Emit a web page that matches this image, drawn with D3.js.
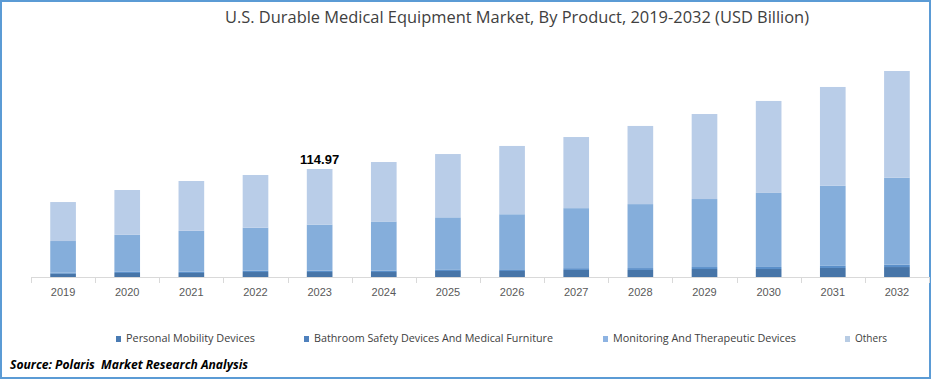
<!DOCTYPE html>
<html>
<head>
<meta charset="utf-8">
<script src="https://cdn.jsdelivr.net/npm/d3@7"></script>
<style>
  html, body { margin: 0; padding: 0; background: #fff; }
  svg { display: block; }
</style>
</head>
<body>
<svg id="chart" width="932" height="380"></svg>
<script>
const years = ["2019","2020","2021","2022","2023","2024","2025","2026","2027","2028","2029","2030","2031","2032"];
const personalMobility = [3.5, 4.3, 4.3, 5.3, 5.3, 5.3, 6.4, 6.4, 7.5, 7.5, 8.5, 8.5, 9.6, 10.6];
const bathroomSafety   = [1.1, 1.2, 1.3, 1.4, 1.5, 1.6, 1.7, 1.8, 1.9, 2.0, 2.1, 2.2, 2.3, 2.5];
const monitoring       = [33.7, 39.4, 43.6, 45.8, 49.0, 52.2, 55.4, 58.6, 63.9, 68.1, 72.4, 78.8, 85.2, 92.6];
const others           = [41.5, 47.7, 53.0, 56.1, 59.17, 63.3, 67.4, 72.7, 75.7, 83.2, 90.5, 97.9, 105.2, 113.6];
const seriesNames = ["Personal Mobility Devices", "Bathroom Safety Devices And Medical Furniture", "Monitoring And Therapeutic Devices", "Others"];
const seriesColors = ["#4775a8", "#5a8fc9", "#85aedb", "#b9cde8"];
const legendColors = ["#4a7bb3", "#4f81bd", "#8db3e2", "#b8cce4"];
const annotatedYear = "2023";
const annotatedValue = "114.97";
const titleText = "U.S. Durable Medical Equipment Market, By Product, 2019-2032 (USD Billion)";
const sourceText = "Source: Polaris\u00a0 Market Research Analysis";

const svg = d3.select("#chart");

// border
svg.append("rect").attr("x", 1).attr("y", 1).attr("width", 929).attr("height", 377)
  .attr("fill", "none").attr("stroke", "#5b9bd5").attr("stroke-width", 2);

// title
svg.append("text").attr("x", 517).attr("y", 23).attr("text-anchor", "middle")
  .attr("font-family", "'Open Sans', sans-serif").attr("font-size", 16)
  .attr("fill", "#404040").attr("textLength", 584).attr("lengthAdjust", "spacingAndGlyphs")
  .text(titleText);

const table = years.map((y, i) => ({
  year: y,
  s0: personalMobility[i], s1: bathroomSafety[i], s2: monitoring[i], s3: others[i]
}));
const stack = d3.stack().keys(["s0","s1","s2","s3"]);
const stacked = stack(table);

const x = d3.scaleBand().domain(years).range([31, 929]).paddingInner(0.6).paddingOuter(0.3);
const y = d3.scaleLinear().domain([0, 230]).range([277, 277 - 230 * 108 / 114.97]);

svg.append("g").selectAll("g").data(stacked).join("g")
  .attr("fill", (d, i) => seriesColors[i])
  .selectAll("rect").data(d => d).join("rect")
  .attr("x", d => x(d.data.year))
  .attr("width", x.bandwidth())
  .attr("y", d => y(d[1]))
  .attr("height", d => y(d[0]) - y(d[1]));

// axis
const axisG = svg.append("g").attr("transform", "translate(0,277)");
axisG.append("line").attr("x1", 31).attr("x2", 929).attr("y1", 0.5).attr("y2", 0.5)
  .attr("stroke", "#d9d9d9").attr("stroke-width", 1);
const boundaries = years.map(yr => x(yr) - x.step() * x.paddingOuter()).concat([929]);
axisG.selectAll("line.tick").data(boundaries).join("line").attr("class", "tick")
  .attr("x1", d => Math.round(d) + 0.5).attr("x2", d => Math.round(d) + 0.5)
  .attr("y1", 0).attr("y2", 6).attr("stroke", "#d9d9d9");
axisG.selectAll("text").data(years).join("text")
  .attr("x", d => x(d) + x.bandwidth() / 2).attr("y", 19)
  .attr("text-anchor", "middle").attr("font-family", "'Liberation Sans', Arial, sans-serif")
  .attr("font-size", 11).attr("fill", "#595959").text(d => d);

// annotation
const ai = years.indexOf(annotatedYear);
const total = personalMobility[ai] + bathroomSafety[ai] + monitoring[ai] + others[ai];
svg.append("text").attr("x", x(annotatedYear) + x.bandwidth() / 2).attr("y", y(total) - 5)
  .attr("text-anchor", "middle").attr("font-family", "'Liberation Sans', Arial, sans-serif")
  .attr("font-size", 13).attr("font-weight", "bold").attr("fill", "#000").text(annotatedValue);

// legend
const legendX = [116, 304, 603, 845];
const legendW = [129, 239, 183, 32];
const lg = svg.append("g");
seriesNames.forEach((name, i) => {
  lg.append("rect").attr("x", legendX[i]).attr("y", 336).attr("width", 5).attr("height", 6)
    .attr("fill", legendColors[i]);
  lg.append("text").attr("x", legendX[i] + 10).attr("y", 342)
    .attr("font-family", "'Open Sans', sans-serif").attr("font-size", 11).attr("fill", "#404040")
    .attr("textLength", legendW[i]).attr("lengthAdjust", "spacingAndGlyphs").text(name);
});

// source
svg.append("text").attr("x", 10).attr("y", 369)
  .attr("font-family", "'Open Sans', sans-serif").attr("font-size", 13)
  .attr("font-weight", "bold").attr("font-style", "italic").attr("fill", "#000")
  .attr("textLength", 238).attr("lengthAdjust", "spacingAndGlyphs").text(sourceText);
</script>
</body>
</html>
